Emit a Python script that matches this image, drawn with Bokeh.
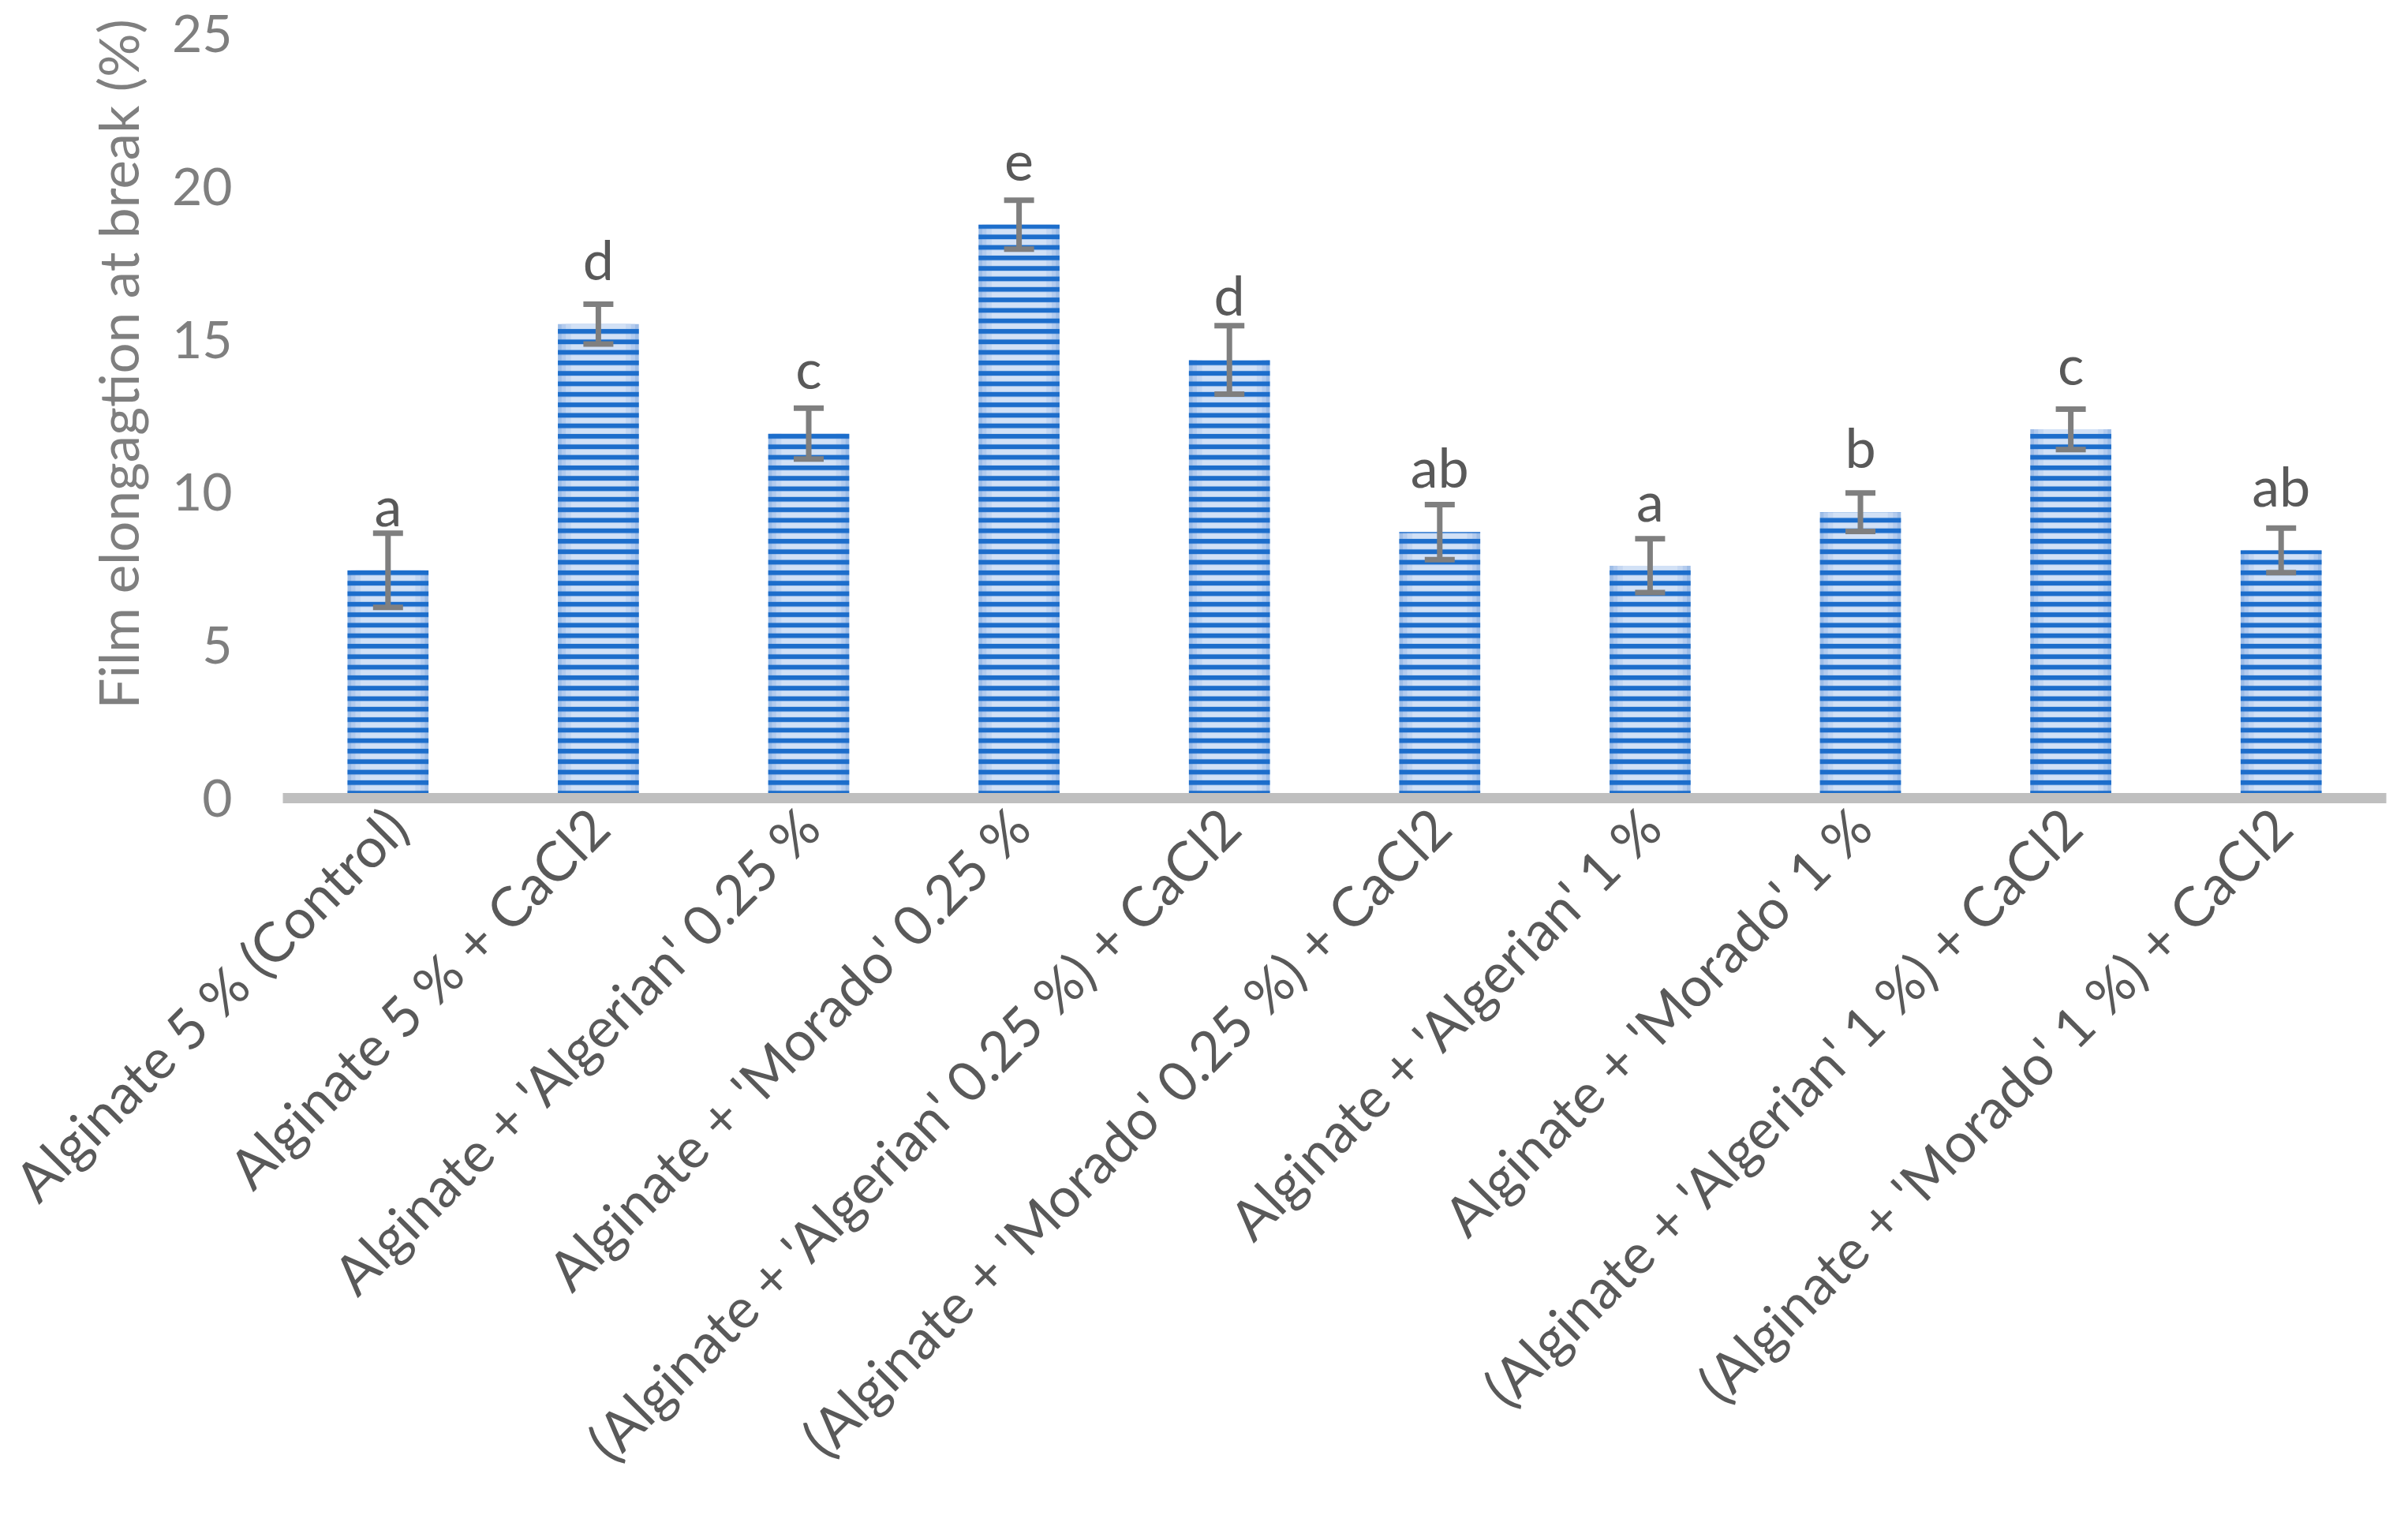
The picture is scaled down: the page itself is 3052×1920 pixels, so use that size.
import math
from bokeh.plotting import figure
from bokeh.models import (ColumnDataSource, FactorRange, Range1d, FixedTicker,
                          Whisker, TeeHead, LabelSet, Title)
from bokeh.core.properties import value
from bokeh.embed import file_html
from bokeh.resources import INLINE

categories = [
    "Alginate 5 % (Control)",
    "Alginate 5 % + CaCl2",
    "Alginate + 'Algerian' 0.25 %",
    "Alginate + 'Morado' 0.25 %",
    "(Alginate + 'Algerian' 0.25 %) + CaCl2",
    "(Alginate + 'Morado' 0.25 %) + CaCl2",
    "Alginate + 'Algerian' 1 %",
    "Alginate + 'Morado' 1 %",
    "(Alginate + 'Algerian' 1 %) + CaCl2",
    "(Alginate + 'Morado' 1 %) + CaCl2",
]
elongation = [7.45, 15.5, 11.92, 18.75, 14.33, 8.7, 7.6, 9.35, 12.06, 8.1]
errors = [1.21, 0.65, 0.83, 0.8, 1.12, 0.9, 0.88, 0.63, 0.66, 0.73]
letters = ["a", "d", "c", "e", "d", "ab", "a", "b", "c", "ab"]
y_ticks = [0, 5, 10, 15, 20, 25]
y_title = "Film elongagtion at break (%)"

upper = [v + e for v, e in zip(elongation, errors)]
lower = [v - e for v, e in zip(elongation, errors)]
src = ColumnDataSource(dict(cat=categories, val=elongation, upper=upper,
                            lower=lower, letter=letters))

FONT = "Lato"

p = figure(width=3036, height=1904,
           x_range=FactorRange(factors=categories), y_range=Range1d(0, 25),
           output_backend="svg", toolbar_location=None,
           min_border_left=358, min_border_right=12, min_border_top=42,
           min_border_bottom=893, outline_line_color=None,
           background_fill_color="white", border_fill_color="white")
p.xgrid.visible = False
p.ygrid.visible = False

# bars: soft gradient body + horizontal stripes
for w, c in [(0.385, "#9ebde7"), (0.35, "#b3cbee"), (0.31, "#c4d7f2"), (0.26, "#d2e1f6")]:
    p.vbar(x="cat", top="val", width=w, source=src, fill_color=c, line_color=None)
p.vbar(x="cat", top="val", width=0.385, source=src, fill_color=None, line_color=None,
       hatch_pattern="horizontal_line", hatch_color="#1c6dcb", hatch_scale=13.3,
       hatch_weight=6)

whisk = Whisker(base="cat", upper="upper", lower="lower", source=src,
                line_color="#7f7f7f", line_width=7, level="annotation",
                upper_head=TeeHead(size=38, line_color="#7f7f7f", line_width=7),
                lower_head=TeeHead(size=38, line_color="#7f7f7f", line_width=7))
p.add_layout(whisk)

labels = LabelSet(x="cat", y="val", text="letter", source=src, text_align="center",
                  text_baseline="alphabetic", y_offset=56, text_font=value(FONT),
                  text_font_size="70px", text_color="#595959", level="annotation")
p.add_layout(labels)

title = Title(text=y_title, align="left", offset=113, standoff=48,
              text_font=FONT, text_font_size="69px", text_color="#7f7f7f",
              text_font_style="normal")
p.add_layout(title, "left")

xa = p.xaxis[0]
xa.major_label_orientation = math.pi / 4
xa.major_label_text_font = FONT
xa.major_label_text_font_size = "70px"
xa.major_label_text_color = "#595959"
xa.axis_line_color = "#bfbfbf"
xa.axis_line_width = 13
xa.major_tick_line_color = None
xa.minor_tick_line_color = None
xa.major_tick_out = 0
xa.major_tick_in = 0
xa.major_label_standoff = 24

ya = p.yaxis[0]
ya.ticker = FixedTicker(ticks=y_ticks)
ya.axis_line_color = None
ya.major_tick_line_color = None
ya.minor_tick_line_color = None
ya.major_tick_out = 0
ya.major_tick_in = 0
ya.major_label_standoff = 64
ya.major_label_text_font = FONT
ya.major_label_text_font_size = "66px"
ya.major_label_text_color = "#7f7f7f"

open("out.html", "w").write(file_html(p, INLINE))
